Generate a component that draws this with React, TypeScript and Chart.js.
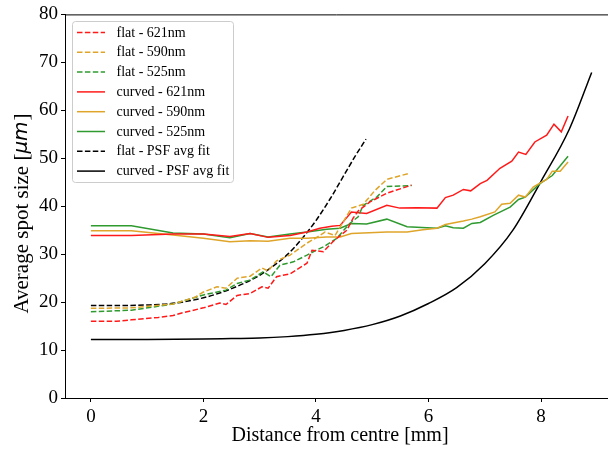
import React, { useEffect, useRef } from "react";
import { Chart, registerables } from "chart.js";

Chart.register(...registerables);

// ---- data ----
const flat621X = [0, 0.45, 0.72, 1.2, 1.46, 1.64, 2.0, 2.29, 2.4, 2.6, 2.83, 3.04, 3.15, 3.3, 3.54, 3.84, 3.93, 4.13, 4.3, 4.55, 4.66, 4.75, 4.96, 5.26, 5.7];
const flat621Y = [16.0, 16.0, 16.3, 16.8, 17.2, 17.8, 18.8, 19.8, 19.5, 21.4, 21.8, 23.2, 22.9, 25.3, 25.9, 28.1, 30.8, 30.5, 32.6, 35.0, 37.5, 39.0, 40.9, 42.7, 44.4];

const flat590X = [0, 0.72, 1.46, 1.85, 2.0, 2.24, 2.4, 2.6, 2.83, 3.04, 3.15, 3.3, 3.54, 3.84, 4.0, 4.16, 4.34, 4.63, 4.84, 5.05, 5.26, 5.67];
const flat590Y = [18.7, 18.8, 19.6, 21.0, 22.1, 23.2, 22.9, 25.0, 25.4, 27.1, 26.5, 28.6, 29.8, 32.3, 33.4, 34.6, 33.9, 39.6, 40.4, 43.3, 45.6, 46.9];

const flat525X = [0, 0.72, 1.46, 2.0, 2.4, 2.6, 2.83, 3.06, 3.2, 3.36, 3.6, 3.84, 4.0, 4.13, 4.37, 4.6, 4.75, 4.84, 5.08, 5.26, 5.7];
const flat525Y = [18.0, 18.3, 19.6, 21.5, 22.5, 23.9, 24.6, 26.3, 25.3, 27.7, 28.4, 29.8, 30.8, 31.5, 33.3, 36.4, 37.8, 40.2, 41.9, 44.1, 44.3];

const curved621X = [0, 0.72, 1.46, 2.0, 2.47, 2.83, 3.15, 3.54, 3.84, 4.07, 4.28, 4.43, 4.63, 4.9, 5.26, 5.49, 5.79, 6.15, 6.3, 6.44, 6.62, 6.75, 6.92, 7.04, 7.27, 7.48, 7.6, 7.73, 7.89, 8.1, 8.23, 8.36, 8.48];
const curved621Y = [33.9, 33.9, 34.2, 34.2, 33.7, 34.3, 33.5, 33.9, 34.6, 35.4, 35.8, 36.0, 38.8, 38.5, 40.2, 39.6, 39.7, 39.6, 41.8, 42.3, 43.5, 43.2, 44.7, 45.4, 47.9, 49.4, 51.3, 50.8, 53.4, 54.8, 57.1, 55.5, 58.8];

const curved590X = [0, 0.72, 1.46, 2.0, 2.47, 2.83, 3.15, 3.54, 3.84, 4.19, 4.43, 4.63, 5.26, 5.62, 5.9, 6.15, 6.3, 6.62, 6.77, 6.92, 7.18, 7.3, 7.45, 7.6, 7.72, 7.86, 7.98, 8.1, 8.2, 8.34, 8.48];
const curved590Y = [34.9, 34.9, 34.0, 33.3, 32.6, 32.8, 32.7, 33.3, 33.3, 33.6, 33.6, 34.3, 34.6, 34.6, 35.1, 35.4, 36.2, 36.9, 37.3, 37.8, 38.8, 40.4, 40.6, 42.3, 41.9, 44.0, 44.8, 45.6, 47.3, 47.3, 49.2];

const curved525X = [0, 0.72, 1.46, 2.0, 2.47, 2.83, 3.15, 3.54, 3.84, 4.19, 4.43, 4.63, 4.9, 5.26, 5.62, 6.15, 6.3, 6.44, 6.62, 6.77, 6.92, 7.15, 7.45, 7.6, 7.72, 7.98, 8.2, 8.48];
const curved525Y = [35.9, 35.9, 34.4, 34.2, 33.4, 34.3, 33.6, 34.2, 34.6, 35.2, 35.4, 36.4, 36.3, 37.3, 35.7, 35.4, 35.9, 35.5, 35.4, 36.4, 36.6, 38.1, 39.8, 41.4, 41.9, 44.7, 46.4, 50.4];

const flatFitX = [0, 0.5, 1.0, 1.5, 2.0, 2.5, 3.0, 3.25, 3.5, 3.75, 4.0, 4.25, 4.5, 4.7, 4.89];
const flatFitY = [19.3, 19.3, 19.4, 19.8, 20.9, 22.8, 25.6, 27.6, 30.0, 33.2, 37.0, 41.5, 46.5, 50.5, 54.0];

const curvedFitX = [0, 1, 2, 2.5, 3, 3.5, 4, 4.5, 5, 5.5, 6, 6.5, 7, 7.5, 8, 8.5, 8.9];
const curvedFitY = [12.2, 12.2, 12.3, 12.4, 12.5, 12.8, 13.3, 14.1, 15.3, 17.1, 19.7, 23.0, 28.0, 35.0, 45.2, 56.0, 67.9];

const xTicks = [0, 2, 4, 6, 8];
const yTicks = [0, 10, 20, 30, 40, 50, 60, 70, 80];

const labels = [
  "flat - 621nm",
  "flat - 590nm",
  "flat - 525nm",
  "curved - 621nm",
  "curved - 590nm",
  "curved - 525nm",
  "flat - PSF avg fit",
  "curved - PSF avg fit",
];

const RED = "#ff1a1a";
const ORANGE = "#dfa52a";
const GREEN = "#2f9a2f";
const BLACK = "#000000";
const DASH = [5.5, 2.4];
const SERIF = '"Liberation Serif", "Times New Roman", serif';

const pts = (xs: number[], ys: number[]) => xs.map((x, i) => ({ x, y: ys[i] }));

const seriesDefs = [
  { label: labels[0], xs: flat621X, ys: flat621Y, color: RED, dash: DASH, smooth: false },
  { label: labels[1], xs: flat590X, ys: flat590Y, color: ORANGE, dash: DASH, smooth: false },
  { label: labels[2], xs: flat525X, ys: flat525Y, color: GREEN, dash: DASH, smooth: false },
  { label: labels[3], xs: curved621X, ys: curved621Y, color: RED, dash: [], smooth: false },
  { label: labels[4], xs: curved590X, ys: curved590Y, color: ORANGE, dash: [], smooth: false },
  { label: labels[5], xs: curved525X, ys: curved525Y, color: GREEN, dash: [], smooth: false },
  { label: labels[6], xs: flatFitX, ys: flatFitY, color: BLACK, dash: DASH, smooth: true },
  { label: labels[7], xs: curvedFitX, ys: curvedFitY, color: BLACK, dash: [], smooth: true },
];

const decorPlugin = {
  id: "decor",
  afterDraw(chart: any) {
    const { ctx, chartArea } = chart;
    ctx.save();
    // top spine
    ctx.strokeStyle = "#000";
    ctx.lineWidth = 1;
    ctx.beginPath();
    ctx.moveTo(chartArea.left, chartArea.top + 0.5);
    ctx.lineTo(chartArea.right, chartArea.top + 0.5);
    ctx.stroke();

    // legend
    const bx = 72.5, by = 21.5, bw = 161, bh = 161, r = 3;
    ctx.fillStyle = "rgba(255,255,255,0.8)";
    ctx.strokeStyle = "#cccccc";
    ctx.lineWidth = 1;
    ctx.beginPath();
    ctx.moveTo(bx + r, by);
    ctx.lineTo(bx + bw - r, by);
    ctx.arcTo(bx + bw, by, bx + bw, by + r, r);
    ctx.lineTo(bx + bw, by + bh - r);
    ctx.arcTo(bx + bw, by + bh, bx + bw - r, by + bh, r);
    ctx.lineTo(bx + r, by + bh);
    ctx.arcTo(bx, by + bh, bx, by + bh - r, r);
    ctx.lineTo(bx, by + r);
    ctx.arcTo(bx, by, bx + r, by, r);
    ctx.closePath();
    ctx.fill();
    ctx.stroke();

    chart.data.datasets.forEach((ds: any, i: number) => {
      const y = 32.5 + i * 19.8;
      ctx.strokeStyle = ds.borderColor;
      ctx.lineWidth = 1.5;
      ctx.setLineDash(ds.borderDash || []);
      ctx.beginPath();
      ctx.moveTo(77, y);
      ctx.lineTo(105, y);
      ctx.stroke();
      ctx.setLineDash([]);
      ctx.fillStyle = "#000";
      ctx.font = `14px ${SERIF}`;
      ctx.textBaseline = "middle";
      ctx.textAlign = "left";
      ctx.fillText(ds.label, 116.5, y + 0.5);
    });

    // x title
    ctx.fillStyle = "#000";
    ctx.font = `20px ${SERIF}`;
    ctx.textAlign = "center";
    ctx.textBaseline = "middle";
    ctx.fillText("Distance from centre [mm]", 340, 436);

    // y title with italic µm
    ctx.translate(22, 214);
    ctx.rotate(-Math.PI / 2);
    const f1 = `21px ${SERIF}`;
    const f2 = `italic 20px "DejaVu Sans", sans-serif`;
    const p1 = "Average spot size [";
    const p2 = "\u03BCm";
    const p3 = "]";
    ctx.font = f1;
    const w1 = ctx.measureText(p1).width;
    const w3 = ctx.measureText(p3).width;
    ctx.font = f2;
    const w2 = ctx.measureText(p2).width;
    let x0 = -(w1 + w2 + w3) / 2;
    ctx.textAlign = "left";
    ctx.textBaseline = "middle";
    ctx.font = f1;
    ctx.fillText(p1, x0, 0);
    x0 += w1;
    ctx.font = f2;
    ctx.fillText(p2, x0, 0);
    x0 += w2 + 1;
    ctx.font = f1;
    ctx.fillText(p3, x0, 0);
    ctx.restore();
  },
};

export default function App() {
  const ref = useRef<HTMLCanvasElement | null>(null);
  useEffect(() => {
    if (!ref.current) return;
    const chart = new Chart(ref.current, {
      type: "line",
      data: {
        datasets: seriesDefs.map((s) => ({
          label: s.label,
          data: pts(s.xs, s.ys),
          borderColor: s.color,
          backgroundColor: s.color,
          borderWidth: 1.5,
          borderDash: s.dash,
          pointRadius: 0,
          fill: false,
          cubicInterpolationMode: s.smooth ? "monotone" : "default",
          tension: 0,
        })),
      },
      options: {
        animation: false,
        responsive: false,
        devicePixelRatio: 1,
        layout: { padding: { top: 14, right: 0, left: 0, bottom: 0 } },
        plugins: { legend: { display: false }, tooltip: { enabled: false } },
        scales: {
          x: {
            type: "linear",
            min: -0.46,
            max: 9.19,
            afterBuildTicks: (s: any) => {
              s.ticks = xTicks.map((v) => ({ value: v }));
            },
            afterFit: (s: any) => {
              s.height = 51;
            },
            grid: { display: true, drawOnChartArea: false, drawTicks: true, tickLength: 4, color: "#000" },
            border: { display: true, color: "#000", width: 1 },
            ticks: { font: { family: SERIF, size: 19 }, color: "#000", padding: 4, maxRotation: 0 },
          },
          y: {
            type: "linear",
            min: 0,
            max: 80,
            afterBuildTicks: (s: any) => {
              s.ticks = yTicks.map((v) => ({ value: v }));
            },
            afterFit: (s: any) => {
              s.width = 65;
            },
            grid: { display: true, drawOnChartArea: false, drawTicks: true, tickLength: 4, color: "#000" },
            border: { display: true, color: "#000", width: 1 },
            ticks: { font: { family: SERIF, size: 19 }, color: "#000", padding: 3 },
          },
        },
      },
      plugins: [decorPlugin],
    } as any);
    return () => chart.destroy();
  }, []);
  return (
    <div style={{ position: "fixed", left: 0, top: 0, width: 608, height: 449, background: "#fff" }}>
      <canvas ref={ref} width={608} height={449} />
    </div>
  );
}
